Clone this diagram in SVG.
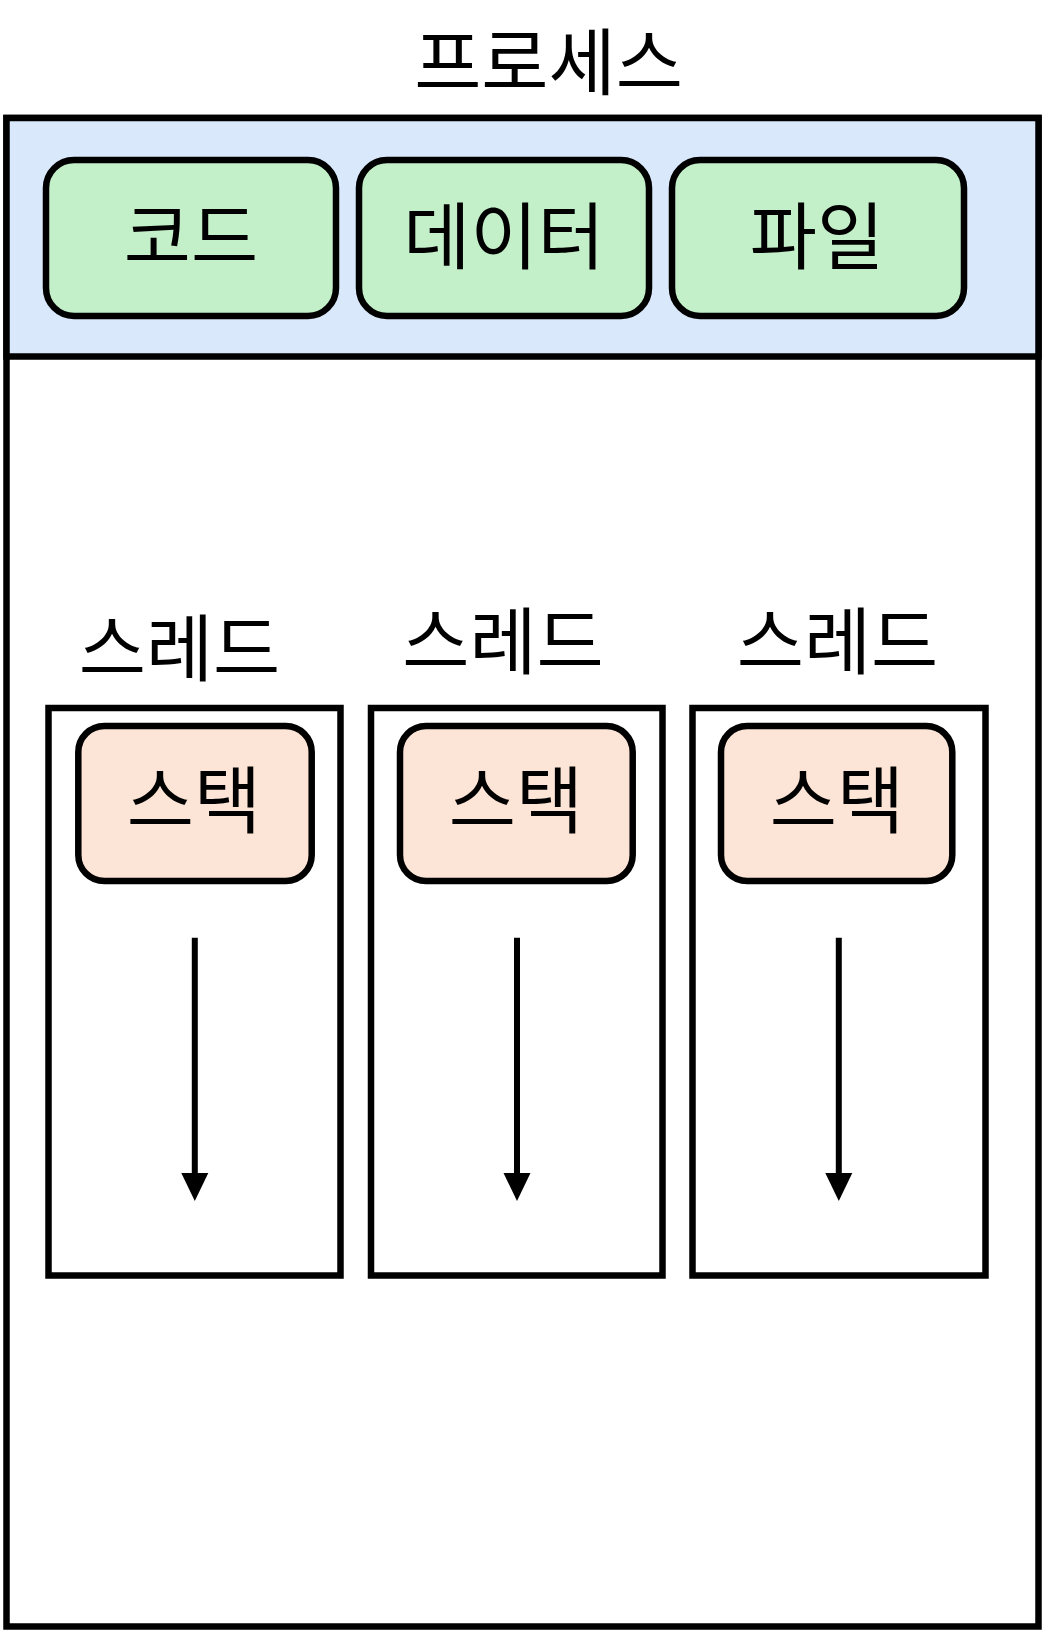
<svg xmlns="http://www.w3.org/2000/svg" width="1045" height="1631" viewBox="0 0 1045 1631">
<style>
.t{font-family:"Noto Sans CJK KR","Noto Sans CJK SC",sans-serif;font-size:73px;fill:#000;text-anchor:middle}
.s{stroke:#000;stroke-width:6.5}
.g{fill:#c3f0c8}
.p{fill:#fce4d6}
.w{fill:#fff}
</style>
<defs>
<marker id="ah" viewBox="0 0 28 28" refX="0" refY="14" markerWidth="28" markerHeight="28" markerUnits="userSpaceOnUse" orient="auto">
<path d="M0,0.5 L28,14 L0,27.5 Z" fill="#000"/>
</marker>
</defs>
<text class="t" x="548.5" y="89">프로세스</text>
<g id="process">
<rect class="s w" x="6.5" y="118" width="1032" height="1508.5"/>
<rect x="6.5" y="118" width="1032" height="238.5" fill="#dae8fc" class="s"/>
</g>
<g id="code"><rect class="s g" x="46" y="160" width="290" height="156" rx="28"/><text class="t" x="191" y="263">코드</text></g>
<g id="data"><rect class="s g" x="359" y="160" width="290" height="156" rx="28"/><text class="t" x="504" y="263">데이터</text></g>
<g id="file"><rect class="s g" x="672" y="160" width="292" height="156" rx="28"/><text class="t" x="817" y="263">파일</text></g>
<g id="thread1">
<text class="t" x="179.5" y="675">스레드</text>
<rect class="s w" x="48.5" y="708" width="292" height="567.5"/>
<rect class="s p" x="78.3" y="726" width="233.4" height="155" rx="26"/>
<text class="t" x="194" y="827">스택</text>
</g>
<g id="thread2">
<text class="t" x="503" y="668">스레드</text>
<rect class="s w" x="371" y="708" width="291.5" height="567.5"/>
<rect class="s p" x="400" y="726" width="232.7" height="155" rx="26"/>
<text class="t" x="516" y="827">스택</text>
</g>
<g id="thread3">
<text class="t" x="837.5" y="668">스레드</text>
<rect class="s w" x="692.5" y="708" width="293" height="567.5"/>
<rect class="s p" x="721" y="726" width="231.3" height="155" rx="26"/>
<text class="t" x="837" y="827">스택</text>
</g>
<g id="connectors" stroke="#000" stroke-width="6" fill="none">
<line x1="194.8" y1="937.7" x2="194.8" y2="1173" marker-end="url(#ah)"/>
<line x1="517" y1="937.7" x2="517" y2="1173" marker-end="url(#ah)"/>
<line x1="838.8" y1="937.7" x2="838.8" y2="1173" marker-end="url(#ah)"/>
</g>
</svg>
